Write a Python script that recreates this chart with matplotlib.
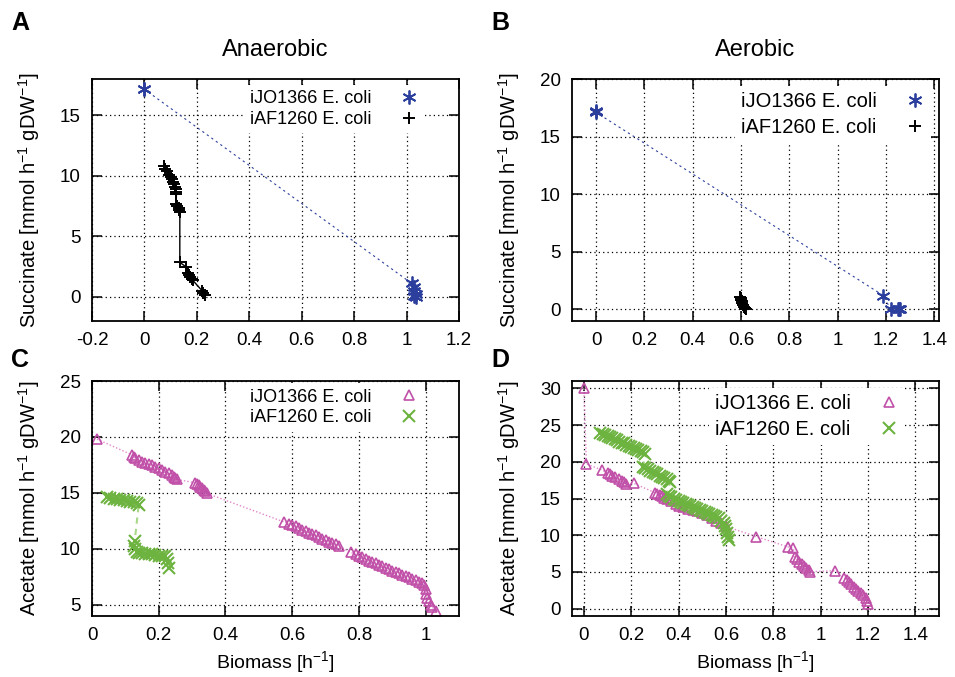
import matplotlib
matplotlib.use('Agg')
import matplotlib.pyplot as plt
from matplotlib.ticker import FuncFormatter

plt.rcParams['font.family'] = ['Liberation Sans', 'DejaVu Sans']
plt.rcParams['mathtext.fontset'] = 'custom'
plt.rcParams['mathtext.rm'] = 'Liberation Sans'
plt.rcParams['mathtext.default'] = 'regular'
plt.rcParams['axes.unicode_minus'] = False

# ---- data ----
# A: anaerobic, succinate
ana_jo_suc_x = [0.0, 0.0, 1.02, 1.03, 1.03, 1.035, 1.035, 1.03]
ana_jo_suc_y = [17.2, 17.15, 1.1, 0.8, 0.45, 0.2, 0.0, 0.1]
ana_af_suc_x = [0.075, 0.08, 0.088, 0.095, 0.10, 0.105, 0.11, 0.113, 0.116, 0.119, 0.12, 0.122,
                0.121, 0.125, 0.13, 0.133, 0.135, 0.135, 0.16, 0.165, 0.17, 0.175, 0.18, 0.185,
                0.22, 0.225, 0.23]
ana_af_suc_y = [10.85, 10.6, 10.4, 10.1, 9.9, 9.7, 9.5, 9.3, 9.1, 8.9, 8.7, 8.5,
                7.7, 7.5, 7.3, 7.2, 7.0, 2.85, 2.45, 1.95, 1.8, 1.6, 1.5, 1.35,
                0.5, 0.3, 0.15]

# B: aerobic, succinate
aer_jo_suc_x = [0.0, 0.0, 1.19, 1.22, 1.25, 1.255, 1.26]
aer_jo_suc_y = [17.2, 17.1, 1.2, 0.0, 0.0, 0.0, 0.0]
aer_af_suc_x = [0.595, 0.598, 0.6, 0.603, 0.606, 0.61, 0.613, 0.617, 0.62]
aer_af_suc_y = [1.1, 1.0, 0.85, 0.7, 0.55, 0.4, 0.25, 0.1, 0.0]

# C: anaerobic, acetate
ana_jo_ac_x = [0.015, 0.12, 0.125, 0.13, 0.14, 0.15, 0.16, 0.17, 0.18, 0.19, 0.20, 0.21, 0.22,
               0.23, 0.24, 0.245, 0.25, 0.255, 0.31, 0.315, 0.32, 0.325, 0.33, 0.335, 0.34, 0.345,
               0.576, 0.59, 0.60, 0.61, 0.62, 0.63, 0.64, 0.65, 0.66, 0.67, 0.68, 0.69, 0.70,
               0.71, 0.72, 0.73, 0.74, 0.775, 0.79, 0.80, 0.81, 0.82, 0.83, 0.84, 0.85, 0.86,
               0.87, 0.88, 0.89, 0.90, 0.91, 0.92, 0.93, 0.94, 0.95, 0.96, 0.97, 0.98, 0.99,
               0.995, 1.0, 1.0, 1.005, 1.01, 1.015, 1.02, 1.03]
ana_jo_ac_y = [19.8, 18.4, 18.25, 18.1, 17.95, 17.8, 17.7, 17.55, 17.45, 17.3, 17.2, 17.05, 16.9,
               16.75, 16.6, 16.45, 16.3, 16.2, 15.9, 15.8, 15.7, 15.55, 15.4, 15.3, 15.15, 14.95,
               12.4, 12.25, 12.1, 12.0, 11.85, 11.7, 11.6, 11.45, 11.3, 11.2, 11.05, 10.9, 10.8,
               10.65, 10.5, 10.4, 10.25, 9.7, 9.5, 9.4, 9.25, 9.1, 8.95, 8.85, 8.7, 8.55,
               8.45, 8.3, 8.2, 8.05, 7.95, 7.8, 7.7, 7.55, 7.45, 7.3, 7.2, 7.05, 6.95,
               6.8, 6.4, 6.0, 5.6, 5.3, 5.0, 4.8, 4.45]
ana_af_ac_x = [0.045, 0.055, 0.065, 0.075, 0.085, 0.095, 0.105, 0.115, 0.125, 0.135, 0.14,
               0.128, 0.125, 0.13, 0.135, 0.14, 0.15, 0.16, 0.17, 0.18, 0.19, 0.20, 0.21, 0.22,
               0.225, 0.228, 0.23]
ana_af_ac_y = [14.6, 14.55, 14.5, 14.45, 14.4, 14.35, 14.3, 14.2, 14.15, 14.1, 13.95,
               10.7, 10.3, 10.0, 9.7, 9.6, 9.6, 9.55, 9.5, 9.5, 9.45, 9.4, 9.4, 9.35,
               9.1, 8.7, 8.3]

# D: aerobic, acetate
aer_jo_ac_x = [0.0, 0.011, 0.075, 0.10, 0.11, 0.12, 0.13, 0.15, 0.16, 0.17, 0.18, 0.212,
               0.30, 0.31, 0.32, 0.33, 0.34, 0.35, 0.37, 0.39, 0.40, 0.42, 0.44, 0.46, 0.48,
               0.50, 0.52, 0.54, 0.56, 0.58, 0.60, 0.729, 0.863, 0.885, 0.89, 0.90, 0.91, 0.92,
               0.93, 0.94, 0.95, 0.955, 1.062, 1.10, 1.11, 1.12, 1.13, 1.14, 1.15, 1.16, 1.17,
               1.18, 1.19, 1.195, 1.2]
aer_jo_ac_y = [30.0, 19.7, 18.9, 18.5, 18.3, 18.1, 17.9, 17.6, 17.4, 17.2, 17.0, 17.05,
               15.8, 15.6, 15.5, 15.3, 15.1, 14.9, 14.6, 14.3, 14.0, 13.8, 13.6, 13.5, 13.3,
               13.0, 12.7, 12.4, 12.0, 11.6, 11.2, 9.8, 8.4, 8.2, 7.0, 6.7, 6.4, 6.1,
               5.8, 5.5, 5.2, 5.05, 5.15, 4.2, 3.9, 3.6, 3.3, 3.0, 2.7, 2.4, 2.1,
               1.8, 1.4, 1.0, 0.7]
aer_af_ac_x = [0.07, 0.08, 0.09, 0.10, 0.11, 0.12, 0.13, 0.14, 0.15, 0.16, 0.17, 0.18, 0.19,
               0.20, 0.21, 0.22, 0.23, 0.24, 0.25, 0.26, 0.25, 0.26, 0.27, 0.28, 0.29, 0.30,
               0.31, 0.32, 0.33, 0.34, 0.35, 0.36, 0.365, 0.35, 0.36, 0.37, 0.38, 0.39, 0.40,
               0.41, 0.42, 0.43, 0.44, 0.45, 0.46, 0.47, 0.48, 0.49, 0.50, 0.51, 0.52, 0.53,
               0.54, 0.55, 0.56, 0.57, 0.58, 0.59, 0.595, 0.60, 0.605, 0.61, 0.615]
aer_af_ac_y = [23.9, 23.75, 23.6, 23.5, 23.35, 23.2, 23.05, 22.9, 22.75, 22.6, 22.5, 22.35, 22.2,
               22.05, 21.9, 21.75, 21.6, 21.45, 21.3, 21.0, 19.3, 19.1, 18.95, 18.8, 18.6, 18.45,
               18.3, 18.1, 17.95, 17.8, 17.6, 17.45, 17.3, 15.6, 15.4, 15.2, 15.0, 14.85, 14.7,
               14.55, 14.4, 14.25, 14.1, 13.95, 13.8, 13.7, 13.55, 13.4, 13.3, 13.15, 13.0, 12.9,
               12.75, 12.6, 12.45, 12.3, 12.0, 11.6, 11.2, 10.8, 10.3, 9.8, 9.3]

label_jo = 'iJO1366 E. coli'
label_af = 'iAF1260 E. coli'

blue = '#2c3f9c'
magenta = '#c050a8'
green = '#6db33f'

W, H = 955, 677
fig = plt.figure(figsize=(W / 100, H / 100), dpi=100)


def px_axes(l, t, r, b):
    return fig.add_axes([l / W, 1 - b / H, (r - l) / W, (b - t) / H])


fmt = FuncFormatter(lambda v, p: '%g' % round(v, 3))


def style(ax, xlim, xticks, ylim, yticks):
    ax.set_xlim(*xlim)
    ax.set_ylim(*ylim)
    ax.set_xticks(xticks)
    ax.set_yticks(yticks)
    ax.xaxis.set_major_formatter(fmt)
    ax.yaxis.set_major_formatter(fmt)
    ax.tick_params(direction='in', length=7, width=1.1, top=True, right=True,
                   labelsize=13.5, pad=8)
    ax.grid(True, color='black', linestyle=(0, (1, 2.5)), linewidth=0.9)
    for s in ax.spines.values():
        s.set_linewidth(1.3)


def legend(ax, size, spacing, pad, anchor):
    leg = ax.legend(loc='upper right', bbox_to_anchor=anchor, fontsize=size,
                    markerfirst=False, handlelength=1.0, handletextpad=pad,
                    labelspacing=spacing, borderpad=0.3, borderaxespad=0,
                    frameon=True, fancybox=False, framealpha=1, edgecolor='none',
                    facecolor='white')
    leg.set_zorder(5)


succ_label = 'Succinate [mmol h$^{-1}$ gDW$^{-1}$]'
acet_label = 'Acetate [mmol h$^{-1}$ gDW$^{-1}$]'
bio_label = 'Biomass [h$^{-1}$]'


def labels(ax, ylab, xlab=None):
    ax.set_ylabel(ylab, fontsize=14.5)
    ax.yaxis.set_label_coords(-0.135, 0.5)
    if xlab:
        ax.set_xlabel(xlab, fontsize=14)
        ax.xaxis.set_label_coords(0.5, -0.14)


# A
axA = px_axes(92, 79, 459, 321)
axA.plot(ana_jo_suc_x, ana_jo_suc_y, color=blue, lw=0.8, ls=(0, (2, 3)))
axA.plot(ana_jo_suc_x, ana_jo_suc_y, ls='none', marker=(6, 2, 0), ms=10, mew=1.3,
         color=blue, label=label_jo)
axA.plot(ana_af_suc_x, ana_af_suc_y, color='black', lw=1.0)
axA.plot(ana_af_suc_x, ana_af_suc_y, ls='none', marker='+', ms=9, mew=1.4,
         color='black', label=label_af)
style(axA, (-0.2, 1.2), [-0.2, 0, 0.2, 0.4, 0.6, 0.8, 1.0, 1.2], (-2, 18), [0, 5, 10, 15])
labels(axA, succ_label)
legend(axA, 13, 0.2, 1.6, (0.903, 0.975))

# B
axB = px_axes(572, 79, 939, 321)
axB.plot(aer_jo_suc_x, aer_jo_suc_y, color=blue, lw=0.8, ls=(0, (2, 3)))
axB.plot(aer_jo_suc_x, aer_jo_suc_y, ls='none', marker=(6, 2, 0), ms=10, mew=1.3,
         color=blue, label=label_jo)
axB.plot(aer_af_suc_x, aer_af_suc_y, color='black', lw=1.0)
axB.plot(aer_af_suc_x, aer_af_suc_y, ls='none', marker='+', ms=9, mew=1.4,
         color='black', label=label_af)
style(axB, (-0.1, 1.42), [0, 0.2, 0.4, 0.6, 0.8, 1.0, 1.2, 1.4], (-1, 20), [0, 5, 10, 15, 20])
labels(axB, succ_label)
legend(axB, 14.5, 0.35, 1.4, (0.978, 0.97))

# C
axC = px_axes(92, 381, 459, 616)
axC.plot(ana_jo_ac_x, ana_jo_ac_y, color='#e088cc', lw=1.0, ls=(0, (1, 1.5)))
axC.plot(ana_jo_ac_x, ana_jo_ac_y, ls='none', marker='^', ms=7.5, mew=1.2, mfc='none',
         color=magenta, label=label_jo)
axC.plot(ana_af_ac_x, ana_af_ac_y, color='#a8d888', lw=1.5, ls=(0, (3, 2.5)))
axC.plot(ana_af_ac_x, ana_af_ac_y, ls='none', marker='x', ms=8, mew=1.5,
         color=green, label=label_af)
style(axC, (0, 1.1), [0, 0.2, 0.4, 0.6, 0.8, 1.0], (4, 25), [5, 10, 15, 20, 25])
labels(axC, acet_label, bio_label)
legend(axC, 13, 0.2, 1.6, (0.903, 0.99))

# D
axD = px_axes(572, 381, 939, 616)
axD.plot(aer_jo_ac_x, aer_jo_ac_y, color='#e088cc', lw=1.0, ls=(0, (1, 1.5)))
axD.plot(aer_jo_ac_x, aer_jo_ac_y, ls='none', marker='^', ms=7.5, mew=1.2, mfc='none',
         color=magenta, label=label_jo)
axD.plot(aer_af_ac_x, aer_af_ac_y, color='#a8d888', lw=1.5, ls=(0, (3, 2.5)))
axD.plot(aer_af_ac_x, aer_af_ac_y, ls='none', marker='x', ms=8, mew=1.5,
         color=green, label=label_af)
style(axD, (-0.05, 1.5), [0, 0.2, 0.4, 0.6, 0.8, 1.0, 1.2, 1.4], (-1, 31), [0, 5, 10, 15, 20, 25, 30])
labels(axD, acet_label, bio_label)
legend(axD, 14.5, 0.35, 1.4, (0.907, 0.97))

# titles and panel letters
fig.text(275.5 / W, 1 - 50 / H, 'Anaerobic', ha='center', va='center', fontsize=17)
fig.text(755.5 / W, 1 - 50 / H, 'Aerobic', ha='center', va='center', fontsize=17)
for lab, x, y in [('A', 11, 23), ('B', 491, 23), ('C', 11, 360), ('D', 491, 360)]:
    fig.text(x / W, 1 - y / H, lab, ha='left', va='center', fontsize=18, fontweight='bold')

fig.savefig('out.png', dpi=100)
